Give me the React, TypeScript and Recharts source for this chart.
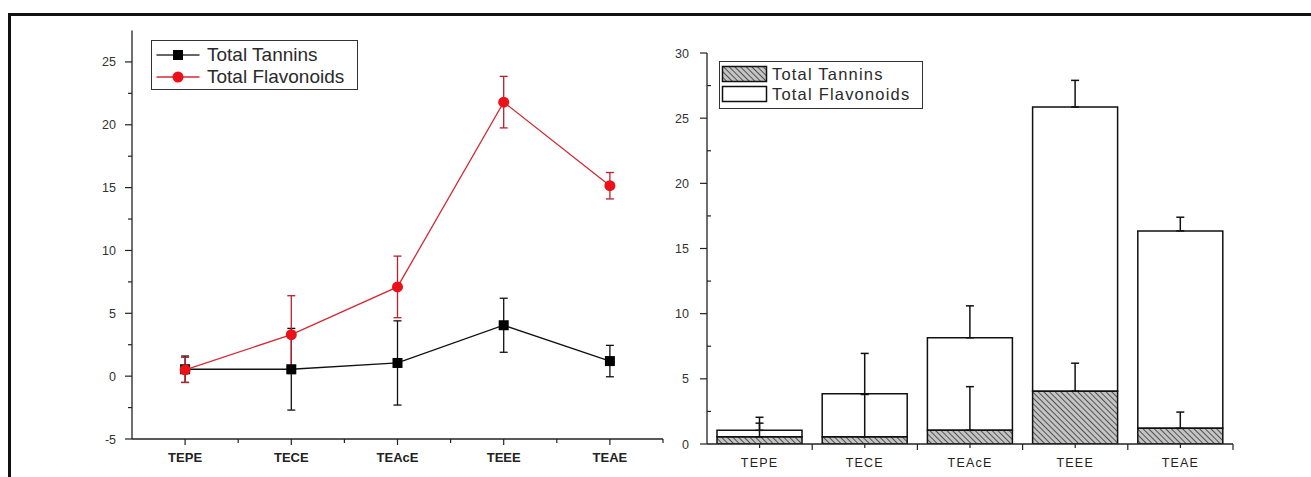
import React from "react";
import { Bar, BarChart, ErrorBar, Legend, Line, LineChart, XAxis, YAxis } from "recharts";

const FONT = "'Liberation Sans', Arial, sans-serif";

const extracts = ["TEPE", "TECE", "TEAcE", "TEEE", "TEAE"];
const tannins = [0.55, 0.55, 1.05, 4.05, 1.2];
const tanninsErr = [1.05, 3.25, 3.35, 2.15, 1.25];
const flavonoids = [0.5, 3.3, 7.1, 21.8, 15.15];
const flavonoidsErr = [1.0, 3.1, 2.45, 2.05, 1.05];

const leftYTicks = [-5, -2.5, 0, 2.5, 5, 7.5, 10, 12.5, 15, 17.5, 20, 22.5, 25];
const leftXTicks = [1, 1.5, 2, 2.5, 3, 3.5, 4, 4.5, 5, 5.5];
const rightYTicks = [0, 2.5, 5, 7.5, 10, 12.5, 15, 17.5, 20, 22.5, 25, 27.5, 30];

const AXIS_STROKE = "#222";

const lineRows = extracts.map((name, i) => ({
  x: i + 1,
  name,
  tannins: tannins[i],
  tanninsErr: tanninsErr[i],
  flavonoids: flavonoids[i],
  flavonoidsErr: flavonoidsErr[i],
}));

// stacked bars only show the upper half of each error bar
const barRows = extracts.map((name, i) => ({
  name,
  tannins: tannins[i],
  tanninsUp: [0, tanninsErr[i]],
  flavonoids: flavonoids[i],
  flavonoidsUp: [0, flavonoidsErr[i]],
}));

function LeftYTick(props: any) {
  const { x, y, payload } = props;
  const major = payload.value % 5 === 0;
  return (
    <g>
      <line x1={x} x2={x - (major ? 7 : 4)} y1={y} y2={y} stroke={AXIS_STROKE} strokeWidth={1.2} />
      {major && (
        <text x={x - 16} y={y} dy="0.36em" textAnchor="end" fontSize={12.5} fill="#333" fontFamily={FONT}>
          {payload.value}
        </text>
      )}
    </g>
  );
}

function LeftXTick(props: any) {
  const { x, y, payload } = props;
  const major = Number.isInteger(payload.value);
  return (
    <g>
      <line x1={x} x2={x} y1={y} y2={y + (major ? 6 : 4)} stroke={AXIS_STROKE} strokeWidth={1.2} />
      {major && (
        <text x={x} y={y + 23} textAnchor="middle" fontSize={13} fontWeight="bold" fill="#222" fontFamily={FONT}>
          {extracts[payload.value - 1]}
        </text>
      )}
    </g>
  );
}

function RightYTick(props: any) {
  const { x, y, payload } = props;
  const major = payload.value % 5 === 0;
  return (
    <g>
      {major ? (
        <line x1={x} x2={x - 7} y1={y} y2={y} stroke={AXIS_STROKE} strokeWidth={1.2} />
      ) : (
        <line x1={x} x2={x + 4} y1={y} y2={y} stroke={AXIS_STROKE} strokeWidth={1.2} />
      )}
      {major && (
        <text x={x - 18} y={y} dy="0.36em" textAnchor="end" fontSize={12.5} fill="#333" fontFamily={FONT}>
          {payload.value}
        </text>
      )}
    </g>
  );
}

function RightXTick(props: any) {
  const { x, y, payload } = props;
  const off = payload.offset ?? 0;
  return (
    <g>
      <line x1={x} x2={x} y1={y} y2={y + 4} stroke={AXIS_STROKE} strokeWidth={1.2} />
      <line x1={x + off} x2={x + off} y1={y} y2={y + 6} stroke={AXIS_STROKE} strokeWidth={1.2} />
      <text x={x} y={y + 23} textAnchor="middle" fontSize={12.5} letterSpacing={1.2} fill="#222" fontFamily={FONT}>
        {payload.value}
      </text>
    </g>
  );
}

function SquareDot(props: any) {
  const { cx, cy, index } = props;
  return <rect key={index} x={cx - 5} y={cy - 5} width={10} height={10} fill="#000" />;
}

function CircleDot(props: any) {
  const { cx, cy, index } = props;
  return <circle key={index} cx={cx} cy={cy} r={5.5} fill="#ec1018" />;
}

function LeftLegend() {
  const rows = [
    { name: "Total Tannins", line: "#333", marker: "square" },
    { name: "Total Flavonoids", line: "#d42a35", marker: "circle" },
  ];
  return (
    <div
      style={{
        width: 205,
        height: 45.5,
        paddingTop: 2.5,
        border: "1.5px solid #333",
        background: "#fff",
        fontFamily: FONT,
        fontSize: 19,
        color: "#2a2a2a",
      }}
    >
      {rows.map((r) => (
        <div key={r.name} style={{ display: "flex", alignItems: "center", height: 22 }}>
          <svg width={55} height={22}>
            <line x1={4.5} x2={47.5} y1={11} y2={11} stroke={r.line} strokeWidth={1.3} />
            {r.marker === "square" ? (
              <rect x={21} y={6} width={10} height={10} fill="#000" />
            ) : (
              <circle cx={26} cy={11} r={5.5} fill="#ec1018" />
            )}
          </svg>
          <span style={{ lineHeight: "22px" }}>{r.name}</span>
        </div>
      ))}
    </div>
  );
}

function RightLegend() {
  const rows = [
    { name: "Total Tannins", fill: "url(#hatchLegend)" },
    { name: "Total Flavonoids", fill: "#fff" },
  ];
  return (
    <div
      style={{
        width: 202,
        height: 44,
        paddingTop: 2,
        border: "1.5px solid #333",
        background: "#fff",
        fontFamily: FONT,
        fontSize: 16.5,
        letterSpacing: 1.2,
        color: "#2a2a2a",
      }}
    >
      {rows.map((r, i) => (
        <div key={r.name} style={{ display: "flex", alignItems: "center", height: 20 }}>
          <svg width={52} height={20}>
            {i === 0 && (
              <defs>
                <pattern id="hatchLegend" patternUnits="userSpaceOnUse" width={4} height={4} patternTransform="rotate(-45)">
                  <rect width={4} height={4} fill="#c4c4c4" />
                  <line x1={0} y1={0} x2={0} y2={4} stroke="#333" strokeWidth={1.6} />
                </pattern>
              </defs>
            )}
            <rect x={2.5} y={2.5} width={44} height={15} fill={r.fill} stroke="#111" strokeWidth={1.5} />
          </svg>
          <span style={{ lineHeight: "20px" }}>{r.name}</span>
        </div>
      ))}
    </div>
  );
}

export default function App() {
  return (
    <div style={{ position: "relative", width: 1311, height: 477, overflow: "hidden", background: "#fff" }}>
      <style>{"body{margin:0;overflow:hidden}"}</style>
      <div
        style={{
          position: "absolute",
          left: 8,
          top: 13,
          width: 1310,
          height: 470,
          borderTop: "3px solid #111",
          borderLeft: "3px solid #111",
        }}
      />

      <div style={{ position: "absolute", left: 60, top: 20 }}>
        <LineChart width={620} height={457} data={lineRows} margin={{ top: 10.5, right: 17, left: 0, bottom: 0 }}>
          <XAxis
            dataKey="x"
            type="number"
            domain={[0.5, 5.5]}
            ticks={leftXTicks}
            interval={0}
            allowDataOverflow
            height={38}
            tickSize={0}
            tickMargin={0}
            tickLine={false}
            tick={<LeftXTick />}
            axisLine={{ stroke: AXIS_STROKE, strokeWidth: 1.3 }}
          />
          <YAxis
            type="number"
            domain={[-5, 27.5]}
            ticks={leftYTicks}
            interval={0}
            allowDataOverflow
            width={72}
            tickSize={0}
            tickMargin={0}
            tickLine={false}
            tick={<LeftYTick />}
            axisLine={{ stroke: AXIS_STROKE, strokeWidth: 1.3 }}
          />
          <Line
            dataKey="tannins"
            stroke="#111"
            strokeWidth={1.3}
            dot={SquareDot}
            activeDot={false}
            isAnimationActive={false}
          >
            <ErrorBar dataKey="tanninsErr" direction="y" width={4} stroke="#111" strokeWidth={1.3} isAnimationActive={false} />
          </Line>
          <Line
            dataKey="flavonoids"
            stroke="#d42a35"
            strokeWidth={1.3}
            dot={CircleDot}
            activeDot={false}
            isAnimationActive={false}
          >
            <ErrorBar dataKey="flavonoidsErr" direction="y" width={4} stroke="#b8202b" strokeWidth={1.3} isAnimationActive={false} />
          </Line>
          <Legend
            layout="horizontal"
            verticalAlign="middle"
            align="center"
            wrapperStyle={{ left: 91, top: 20, width: "auto" }}
            content={() => <LeftLegend />}
          />
        </LineChart>
      </div>

      <div style={{ position: "absolute", left: 660, top: 20 }}>
        <BarChart width={651} height={457} data={barRows} margin={{ top: 33, right: 78, left: 0, bottom: 0 }}>
          <defs>
            <pattern id="hatch" patternUnits="userSpaceOnUse" width={4} height={4} patternTransform="rotate(-45)">
              <rect width={4} height={4} fill="#c4c4c4" />
              <line x1={0} y1={0} x2={0} y2={4} stroke="#333" strokeWidth={1.6} />
            </pattern>
          </defs>
          <Bar dataKey="tannins" stackId="a" barSize={85} fill="url(#hatch)" stroke="#111" strokeWidth={1.5} isAnimationActive={false}>
            <ErrorBar dataKey="tanninsUp" direction="y" width={4} stroke="#111" strokeWidth={1.5} isAnimationActive={false} />
          </Bar>
          <Bar dataKey="flavonoids" stackId="a" barSize={85} fill="none" stroke="#111" strokeWidth={1.5} isAnimationActive={false}>
            <ErrorBar dataKey="flavonoidsUp" direction="y" width={4} stroke="#111" strokeWidth={1.5} isAnimationActive={false} />
          </Bar>
          <XAxis
            dataKey="name"
            height={33}
            interval={0}
            tickSize={0}
            tickMargin={0}
            tickLine={false}
            tick={<RightXTick />}
            axisLine={{ stroke: AXIS_STROKE, strokeWidth: 1.3 }}
          />
          <YAxis
            type="number"
            domain={[0, 30]}
            ticks={rightYTicks}
            interval={0}
            allowDataOverflow
            width={47}
            tickSize={0}
            tickMargin={0}
            tickLine={false}
            tick={<RightYTick />}
            axisLine={{ stroke: AXIS_STROKE, strokeWidth: 1.3 }}
          />
          <Legend
            layout="horizontal"
            verticalAlign="middle"
            align="center"
            wrapperStyle={{ left: 59, top: 41, width: "auto" }}
            content={() => <RightLegend />}
          />
        </BarChart>
      </div>
    </div>
  );
}
